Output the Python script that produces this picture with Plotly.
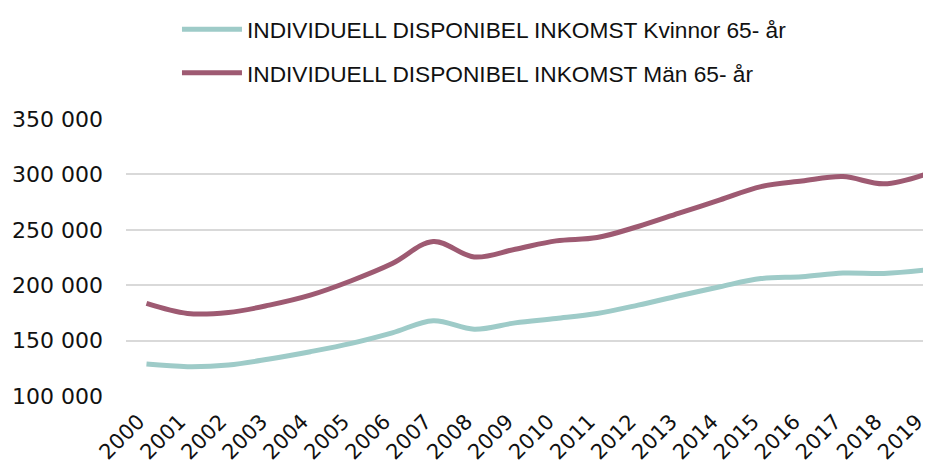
import plotly.graph_objects as go

years = list(range(2000, 2020))
women = [128800, 126500, 128000, 133400, 140000, 147500, 157000, 168000, 160300, 166000,
         170000, 174500, 182000, 190500, 198600, 206000, 207600, 211000, 210600, 213600]
men = [183500, 174500, 175400, 182000, 191000, 204000, 219500, 239500, 225500, 232500,
       240000, 243000, 253000, 265000, 277000, 289000, 294000, 298000, 291500, 300000]
tick_vals = [100000, 150000, 200000, 250000, 300000, 350000]

fig = go.Figure()
fig.add_trace(go.Scatter(x=years, y=women, mode="lines", line=dict(color="#9ecbc8", width=5, shape="spline"),
                         name="INDIVIDUELL DISPONIBEL INKOMST Kvinnor 65- år", legendgroup="a"))
fig.add_trace(go.Scatter(x=years, y=men, mode="lines", line=dict(color="#9e5a72", width=5, shape="spline"),
                         name="INDIVIDUELL DISPONIBEL INKOMST Män 65- år", legendgroup="b"))

fig.update_layout(
    width=931, height=467,
    margin=dict(l=118, r=8, t=111, b=79, autoexpand=False),
    paper_bgcolor="white", plot_bgcolor="white",
    separators=", ",
    showlegend=True,
    legend=dict(x=0.1815, y=1.0, xref="container", yref="container", xanchor="left", yanchor="top",
                orientation="v",
                font=dict(family="Liberation Sans, Arial, sans-serif", size=22.7, color="#111"),
                itemwidth=60, tracegroupgap=11, bgcolor="rgba(0,0,0,0)"),
    xaxis=dict(range=[1999.5, 2019.15], tickmode="array", tickvals=years, ticktext=[str(y) for y in years],
               tickangle=-45, showgrid=False, zeroline=False, showline=False, ticks="", automargin=False,
               ticklabelstandoff=8, ticklabelshift=-8,
               tickfont=dict(family="DejaVu Sans, sans-serif", size=21, color="#111")),
    yaxis=dict(range=[100000, 350000], tickmode="array", tickvals=tick_vals, tickformat=",d",
               showgrid=True, gridcolor="#d9d9d9", gridwidth=2, zeroline=False, showline=False,
               ticklabelstandoff=22, automargin=False,
               tickfont=dict(family="DejaVu Sans, sans-serif", size=22, color="#111")),
)
fig.write_html("out.html")
